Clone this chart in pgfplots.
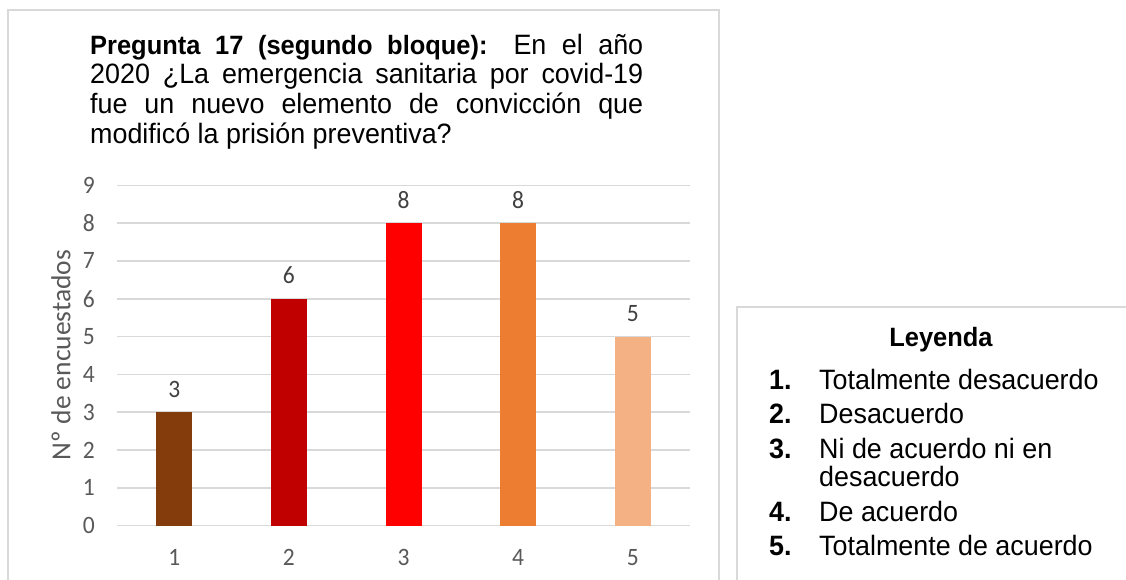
\documentclass[border=0pt]{standalone}
\usepackage{pgfplots}
\pgfplotsset{compat=1.18}
\usepackage{fontspec}
\setmainfont{Liberation Sans}
\newfontfamily\titlefont[FakeStretch=0.96]{Liberation Sans}
\newfontfamily\legfont[FakeStretch=0.96]{Liberation Sans}
\newfontfamily\calibri[FakeStretch=0.94]{Carlito}
\newfontfamily\calibrilab{Carlito}
\definecolor{gridgray}{HTML}{D9D9D9}
\definecolor{txtgray}{HTML}{595959}
\definecolor{lblgray}{HTML}{404040}
\definecolor{c1}{HTML}{843C0C}
\definecolor{c2}{HTML}{C00000}
\definecolor{c3}{HTML}{FF0000}
\definecolor{c4}{HTML}{ED7D31}
\definecolor{c5}{HTML}{F4B183}
\begin{document}
\begin{tikzpicture}[x=1pt,y=1pt]
\useasboundingbox (0,0) rectangle (1126,580);
\fill[white] (0,0) rectangle (1126,580);
\draw[gridgray, line width=1.5pt] (8,-10) -- (8,570) -- (719,570) -- (719,-10);
\draw[gridgray, line width=1.5pt] (1140,273) -- (737,273) -- (737,-10);
% title
\begin{scope}[every node/.style={anchor=base west, inner sep=0pt, font=\titlefont\fontsize{28}{29.7}\selectfont}]
\node at (90,525.7) {\makebox[553pt][s]{{\fontsize{26.5}{29.7}\selectfont\bfseries Pregunta 17 (segundo bloque):} En el año}};
\node at (90,496.0) {\makebox[553pt][s]{2020 ¿La emergencia sanitaria por covid-19}};
\node at (90,466.3) {\makebox[553pt][s]{fue un nuevo elemento de convicción que}};
\node at (90,436.6) {modificó la prisión preventiva?};
\end{scope}
% y label
\node[rotate=90, inner sep=0pt, text=txtgray, font=\calibrilab\fontsize{27.5}{27.5}\selectfont] at (61,225) {Nº de encuestados};
\begin{axis}[
  at={(117pt,54.3pt)}, anchor=south west,
  scale only axis, width=573pt, height=340.4pt,
  xmin=0.5, xmax=5.5, ymin=0, ymax=9,
  ytick={0,1,2,3,4,5,6,7,8,9}, xtick={1,2,3,4,5},
  ymajorgrids, grid style={gridgray, line width=1.5pt},
  axis line style={draw=none}, major tick length=0pt,
  tick label style={font=\calibri\fontsize{25}{25}\selectfont, text=txtgray},
  /pgf/number format/assume math mode=true,
  yticklabel style={anchor=east, inner sep=0pt, xshift=-22pt},
  xticklabel style={anchor=base, inner sep=0pt, yshift=-39.5pt},
  ybar, bar width=36pt,
  nodes near coords,
  nodes near coords style={font=\calibri\fontsize{25}{25}\selectfont, text=lblgray, anchor=base, inner sep=0pt, yshift=15pt},
  clip=false,
]
\addplot[fill=c1, draw=none, bar shift=0pt] coordinates {(1,3)};
\addplot[fill=c2, draw=none, bar shift=0pt] coordinates {(2,6)};
\addplot[fill=c3, draw=none, bar shift=0pt] coordinates {(3,8)};
\addplot[fill=c4, draw=none, bar shift=0pt] coordinates {(4,8)};
\addplot[fill=c5, draw=none, bar shift=0pt] coordinates {(5,5)};
\end{axis}
% legend box text
\node[anchor=base, inner sep=0pt, font=\legfont\bfseries\fontsize{26.5}{26.5}\selectfont] at (941,233.3) {Leyenda};
\begin{scope}[every node/.style={anchor=base west, inner sep=0pt, font=\legfont\fontsize{28}{28}\selectfont}]
\node at (769,190.7) {\textbf{1.}};
\node at (819,190.7) {Totalmente desacuerdo};
\node at (769,156.7) {\textbf{2.}};
\node at (819,156.7) {Desacuerdo};
\node at (769,121.7) {\textbf{3.}};
\node at (819,121.7) {Ni de acuerdo ni en};
\node at (819,93.3) {desacuerdo};
\node at (769,58.7) {\textbf{4.}};
\node at (819,58.7) {De acuerdo};
\node at (769,24.0) {\textbf{5.}};
\node at (819,24.0) {Totalmente de acuerdo};
\end{scope}
\end{tikzpicture}
\end{document}
